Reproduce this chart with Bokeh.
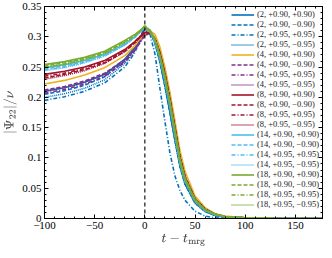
from bokeh.plotting import figure
from bokeh.models import Span, LinearAxis, FixedTicker, Legend, LegendItem, Range1d
from bokeh.embed import file_html
from bokeh.resources import INLINE

# time grid (t - t_mrg)
t = [-100, -80, -60, -40, -20, -10, -5, 0, 5, 10, 15, 20, 25, 30, 35, 40, 50, 60, 70, 80, 100, 130, 180]

# |Psi22|/nu, one list per configuration
q2_p090_p090 = [0.210, 0.216, 0.225, 0.238, 0.263, 0.283, 0.298, 0.315, 0.309, 0.291, 0.260, 0.220, 0.176, 0.130, 0.087, 0.058, 0.026, 0.012, 0.005, 0.002, 0.001, 0, 0]
q2_p090_m090 = [0.205, 0.211, 0.220, 0.234, 0.260, 0.281, 0.297, 0.314, 0.308, 0.290, 0.259, 0.219, 0.175, 0.129, 0.086, 0.057, 0.026, 0.012, 0.005, 0.002, 0.001, 0, 0]
q2_p095_p095 = [0.195, 0.201, 0.210, 0.224, 0.250, 0.274, 0.294, 0.318, 0.305, 0.272, 0.215, 0.160, 0.108, 0.070, 0.046, 0.030, 0.012, 0.004, 0.001, 0.0, 0, 0, 0]
q2_p095_m095 = [0.200, 0.206, 0.215, 0.229, 0.256, 0.278, 0.295, 0.316, 0.309, 0.290, 0.258, 0.218, 0.174, 0.128, 0.085, 0.056, 0.025, 0.011, 0.005, 0.002, 0.001, 0, 0]
q4_p090_p090 = [0.222, 0.228, 0.237, 0.249, 0.269, 0.285, 0.296, 0.305, 0.310, 0.304, 0.283, 0.250, 0.208, 0.161, 0.112, 0.078, 0.037, 0.018, 0.008, 0.004, 0.001, 0, 0]
q4_p090_m090 = [0.212, 0.218, 0.227, 0.240, 0.262, 0.280, 0.292, 0.303, 0.306, 0.296, 0.272, 0.237, 0.195, 0.148, 0.100, 0.068, 0.031, 0.015, 0.007, 0.003, 0.001, 0, 0]
q4_p095_p095 = [0.207, 0.213, 0.222, 0.235, 0.258, 0.277, 0.290, 0.302, 0.306, 0.297, 0.274, 0.240, 0.198, 0.151, 0.103, 0.070, 0.033, 0.016, 0.007, 0.003, 0.001, 0, 0]
q4_p095_m095 = [0.210, 0.216, 0.225, 0.238, 0.260, 0.278, 0.291, 0.302, 0.305, 0.295, 0.271, 0.236, 0.194, 0.147, 0.099, 0.067, 0.031, 0.015, 0.007, 0.003, 0.001, 0, 0]
q8_p090_p090 = [0.238, 0.243, 0.250, 0.261, 0.279, 0.292, 0.300, 0.307, 0.307, 0.297, 0.273, 0.238, 0.196, 0.149, 0.101, 0.069, 0.032, 0.015, 0.007, 0.003, 0.001, 0, 0]
q8_p090_m090 = [0.232, 0.238, 0.246, 0.257, 0.276, 0.290, 0.299, 0.306, 0.306, 0.296, 0.272, 0.237, 0.195, 0.148, 0.100, 0.068, 0.031, 0.015, 0.007, 0.003, 0.001, 0, 0]
q8_p095_p095 = [0.235, 0.240, 0.248, 0.259, 0.278, 0.292, 0.301, 0.309, 0.308, 0.297, 0.272, 0.236, 0.193, 0.146, 0.098, 0.067, 0.031, 0.014, 0.007, 0.003, 0.001, 0, 0]
q8_p095_m095 = [0.230, 0.236, 0.244, 0.256, 0.275, 0.290, 0.299, 0.307, 0.307, 0.297, 0.273, 0.238, 0.196, 0.149, 0.101, 0.069, 0.032, 0.015, 0.007, 0.003, 0.001, 0, 0]
q14_p090_p090 = [0.249, 0.254, 0.261, 0.271, 0.288, 0.300, 0.308, 0.316, 0.309, 0.293, 0.265, 0.228, 0.185, 0.138, 0.092, 0.062, 0.029, 0.013, 0.006, 0.003, 0.001, 0, 0]
q14_p090_m090 = [0.247, 0.252, 0.259, 0.270, 0.287, 0.299, 0.307, 0.315, 0.308, 0.292, 0.264, 0.227, 0.184, 0.137, 0.091, 0.061, 0.028, 0.013, 0.006, 0.003, 0.001, 0, 0]
q14_p095_p095 = [0.245, 0.250, 0.258, 0.269, 0.287, 0.300, 0.309, 0.318, 0.311, 0.295, 0.268, 0.232, 0.190, 0.143, 0.096, 0.065, 0.030, 0.014, 0.007, 0.003, 0.001, 0, 0]
q14_p095_m095 = [0.244, 0.249, 0.257, 0.268, 0.286, 0.299, 0.308, 0.317, 0.310, 0.295, 0.268, 0.232, 0.190, 0.143, 0.096, 0.065, 0.030, 0.014, 0.007, 0.003, 0.001, 0, 0]
q18_p090_p090 = [0.254, 0.259, 0.266, 0.276, 0.294, 0.304, 0.310, 0.317, 0.310, 0.295, 0.268, 0.232, 0.190, 0.142, 0.095, 0.064, 0.030, 0.014, 0.007, 0.003, 0.001, 0, 0]
q18_p090_m090 = [0.252, 0.257, 0.264, 0.274, 0.292, 0.302, 0.309, 0.316, 0.309, 0.294, 0.267, 0.231, 0.189, 0.141, 0.094, 0.063, 0.029, 0.014, 0.007, 0.003, 0.001, 0, 0]
q18_p095_p095 = [0.250, 0.255, 0.263, 0.273, 0.291, 0.302, 0.310, 0.318, 0.311, 0.296, 0.270, 0.235, 0.193, 0.146, 0.099, 0.067, 0.031, 0.015, 0.007, 0.003, 0.001, 0, 0]
q18_p095_m095 = [0.249, 0.254, 0.262, 0.272, 0.290, 0.301, 0.309, 0.317, 0.311, 0.297, 0.271, 0.236, 0.195, 0.148, 0.100, 0.068, 0.032, 0.015, 0.007, 0.003, 0.001, 0, 0]

legend_labels = [
    "(2, +0.90, +0.90)", "(2, +0.90, \u22120.90)", "(2, +0.95, +0.95)", "(2, +0.95, \u22120.95)",
    "(4, +0.90, +0.90)", "(4, +0.90, \u22120.90)", "(4, +0.95, +0.95)", "(4, +0.95, \u22120.95)",
    "(8, +0.90, +0.90)", "(8, +0.90, \u22120.90)", "(8, +0.95, +0.95)", "(8, +0.95, \u22120.95)",
    "(14, +0.90, +0.90)", "(14, +0.90, \u22120.90)", "(14, +0.95, +0.95)", "(14, +0.95, \u22120.95)",
    "(18, +0.90, +0.90)", "(18, +0.90, \u22120.90)", "(18, +0.95, +0.95)", "(18, +0.95, \u22120.95)",
]
curves = [
    q2_p090_p090, q2_p090_m090, q2_p095_p095, q2_p095_m095,
    q4_p090_p090, q4_p090_m090, q4_p095_p095, q4_p095_m095,
    q8_p090_p090, q8_p090_m090, q8_p095_p095, q8_p095_m095,
    q14_p090_p090, q14_p090_m090, q14_p095_p095, q14_p095_m095,
    q18_p090_p090, q18_p090_m090, q18_p095_p095, q18_p095_m095,
]
colors = [
    "#0072BD", "#0072BD", "#0072BD", "#0072BD",
    "#EDB120", "#7E2F8E", "#7E2F8E", "#7E2F8E",
    "#A2142F", "#A2142F", "#A2142F", "#A2142F",
    "#4DBEEE", "#4DBEEE", "#4DBEEE", "#4DBEEE",
    "#77AC30", "#77AC30", "#77AC30", "#77AC30",
]
dashes = ["solid", "4 2", "4 2 1 2", "1 1"] * 5

x_major = [-100, -50, 0, 50, 100, 150]
y_major = [0, 0.05, 0.1, 0.15, 0.2, 0.25, 0.3, 0.35]
y_major_labels = ["0", "0.05", "0.1", "0.15", "0.2", "0.25", "0.3", "0.35"]

FONT = "Liberation Serif"

p = figure(width=324, height=250, output_backend="svg", toolbar_location=None,
           x_range=Range1d(-100, 177), y_range=Range1d(0, 0.35),
           min_border_left=0, min_border_right=2, min_border_top=6, min_border_bottom=0)
p.grid.visible = False
p.outline_line_color = "black"
p.outline_line_width = 1
p.background_fill_color = "white"
p.border_fill_color = "white"

bottom = p.below[0]
left = p.left[0]

items = []
for lab, ys, c, d in zip(legend_labels, curves, colors, dashes):
    r = p.line(t, ys, line_color=c, line_width=1.6, line_dash=d)
    items.append(LegendItem(label=lab, renderers=[r]))

p.add_layout(Span(location=0, dimension="height", line_color="black",
                  line_dash="4 3", line_width=1.1))

xt = FixedTicker(ticks=x_major, minor_ticks=list(range(-100, 180, 10)))
yt = FixedTicker(ticks=y_major, minor_ticks=[i / 100 for i in range(0, 36)])
bottom.ticker = xt
left.ticker = yt
left.major_label_overrides = {v: s for v, s in zip(y_major, y_major_labels)}

top = LinearAxis(ticker=xt, major_label_text_color=None, major_label_text_font_size="1px",
                 major_label_standoff=0)
right = LinearAxis(ticker=yt, major_label_text_color=None, major_label_text_font_size="1px",
                   major_label_standoff=0)
p.add_layout(top, "above")
p.add_layout(right, "right")

for ax in [bottom, left, top, right]:
    ax.major_tick_in = 4
    ax.major_tick_out = 0
    ax.minor_tick_in = 2
    ax.minor_tick_out = 0
    ax.axis_line_color = "black"
    ax.major_tick_line_color = "black"
    ax.minor_tick_line_color = "black"
    ax.major_label_text_font = FONT
    ax.axis_label_text_font = FONT
    ax.axis_label_text_font_style = "normal"

for ax in [bottom, left]:
    ax.major_label_text_color = "black"
    ax.major_label_text_font_size = "11px"
    ax.major_label_standoff = 3
    ax.axis_label_text_font_size = "12px"
    ax.axis_label_standoff = 2
bottom.axis_label = r"$$t - t_{\mathrm{mrg}}$$"
left.axis_label = r"$$|\Psi_{22}|/\nu$$"

legend = Legend(items=items, location="top_right")
legend.label_text_font = FONT
legend.label_text_font_size = "8.5px"
legend.label_text_color = "#222222"
legend.glyph_width = 23
legend.glyph_height = 9
legend.label_height = 9
legend.spacing = 0
legend.padding = 1
legend.margin = 3
legend.label_standoff = 3
legend.border_line_color = None
legend.background_fill_alpha = 0
p.add_layout(legend)

open("out.html", "w").write(file_html(p, INLINE))
